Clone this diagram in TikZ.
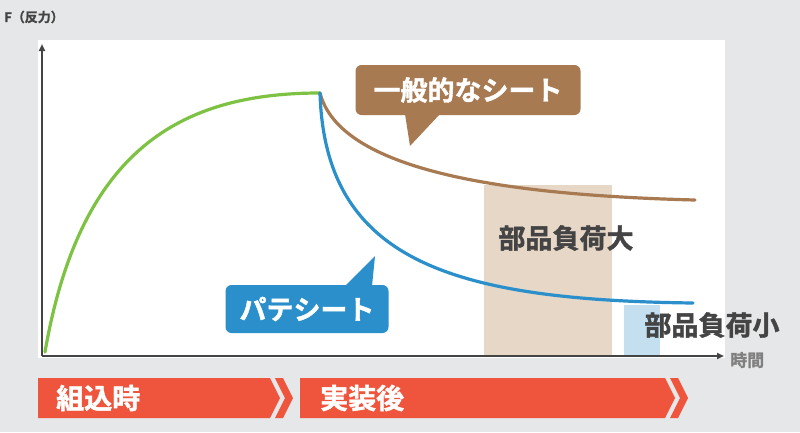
\documentclass[tikz,border=0pt]{standalone}
\usepackage{fontspec}
\newfontfamily\cjk{Noto Sans CJK JP Bold}[FakeBold=1.5]
\usetikzlibrary{arrows.meta,positioning}
\definecolor{bggray}{HTML}{E6E7E8}
\definecolor{barred}{HTML}{EF553C}
\definecolor{curvegreen}{HTML}{7DC242}
\definecolor{curvebrown}{HTML}{A87A52}
\definecolor{curveblue}{HTML}{2A8FCB}
\definecolor{zonebeige}{HTML}{E7D7C7}
\definecolor{zoneblue}{HTML}{C3DFF0}
\definecolor{labelgray}{HTML}{444444}
\begin{document}
\begin{tikzpicture}[x=1pt,y=-1pt,font=\cjk]
            \tikzset{Curve/.style={line width=3.2pt, line cap=round}}
            \tikzset{Callout/.style={rounded corners=6pt, text=white, font=\cjk\fontsize{27}{27}\selectfont}}
            \tikzset{ZoneLabel/.style={text=labelgray, font=\cjk\fontsize{27}{27}\selectfont}}
            \tikzset{BarText/.style={text=white, anchor=west, font=\cjk\fontsize{28}{28}\selectfont}}

            \fill[bggray] (0,0) rectangle (800,432);
            \useasboundingbox (0,0) rectangle (800,432);
            \fill[white] (38,40) rectangle (725,358);

            % shaded load zones
            \fill[zonebeige] (484,185) rectangle (612,356);
            \fill[zoneblue] (624,305) rectangle (660,356);

            % axes
            \coordinate (O) at (42,356);
            \coordinate (Ytop) at (42,44);
            \coordinate (Xend) at (724,356);
            \draw[labelgray, line width=2pt, -{Triangle[length=7pt,width=6pt]}] (O) -- (Ytop);
            \draw[labelgray, line width=2pt, -{Triangle[length=7pt,width=6pt]}] (O) -- (Xend);
            \node[text=labelgray, anchor=west, font=\cjk\fontsize{13}{13}\selectfont, inner sep=0pt] (Flabel) at (4,17) {F（反力）};
            \node[text=gray, anchor=west, font=\cjk\fontsize{17}{17}\selectfont, inner sep=0pt] (Tlabel) at (730,360) {時間};

            % curves
            \coordinate (Peak) at (320,93);
            \draw[Curve, curvegreen] (45,352) .. controls (80,150) and (180,93) .. (Peak);
            \draw[Curve, curvebrown] (Peak) .. controls (340,170) and (500,195) .. (695,200);
            \draw[Curve, curveblue] (Peak) .. controls (325,260) and (450,300) .. (693,303);

            % callouts
            \node[Callout, fill=curvebrown, minimum width=225pt, minimum height=50pt] (General) at (468,90) {一般的なシート};
            \fill[curvebrown] (405,114) -- (410,146) -- (440,114) -- cycle;
            \node[Callout, fill=curveblue, minimum width=163pt, minimum height=48pt] (Pate) at (307,309) {パテシート};
            \fill[curveblue] (345,286) -- (375,256) -- (372,286) -- cycle;

            \node[ZoneLabel] (Large) at (566,238) {部品負荷大};
            \node[ZoneLabel] (Small) at (712,325) {部品負荷小};

            % phase bars
            \fill[barred] (38,378) -- (270,378) -- (280,398) -- (270,418) -- (38,418) -- cycle;
            \fill[barred] (275,378) -- (283,378) -- (293,398) -- (283,418) -- (275,418) -- (285,398) -- cycle;
            \fill[barred] (300,378) -- (665,378) -- (675,398) -- (665,418) -- (300,418) -- cycle;
            \fill[barred] (670,378) -- (678,378) -- (688,398) -- (678,418) -- (670,418) -- (680,398) -- cycle;
            \node[BarText, inner sep=0pt] (Assembly) at (56,398) {組込時};
            \node[BarText, inner sep=0pt] (Mounted) at (320,398) {実装後};
\end{tikzpicture}
\end{document}
